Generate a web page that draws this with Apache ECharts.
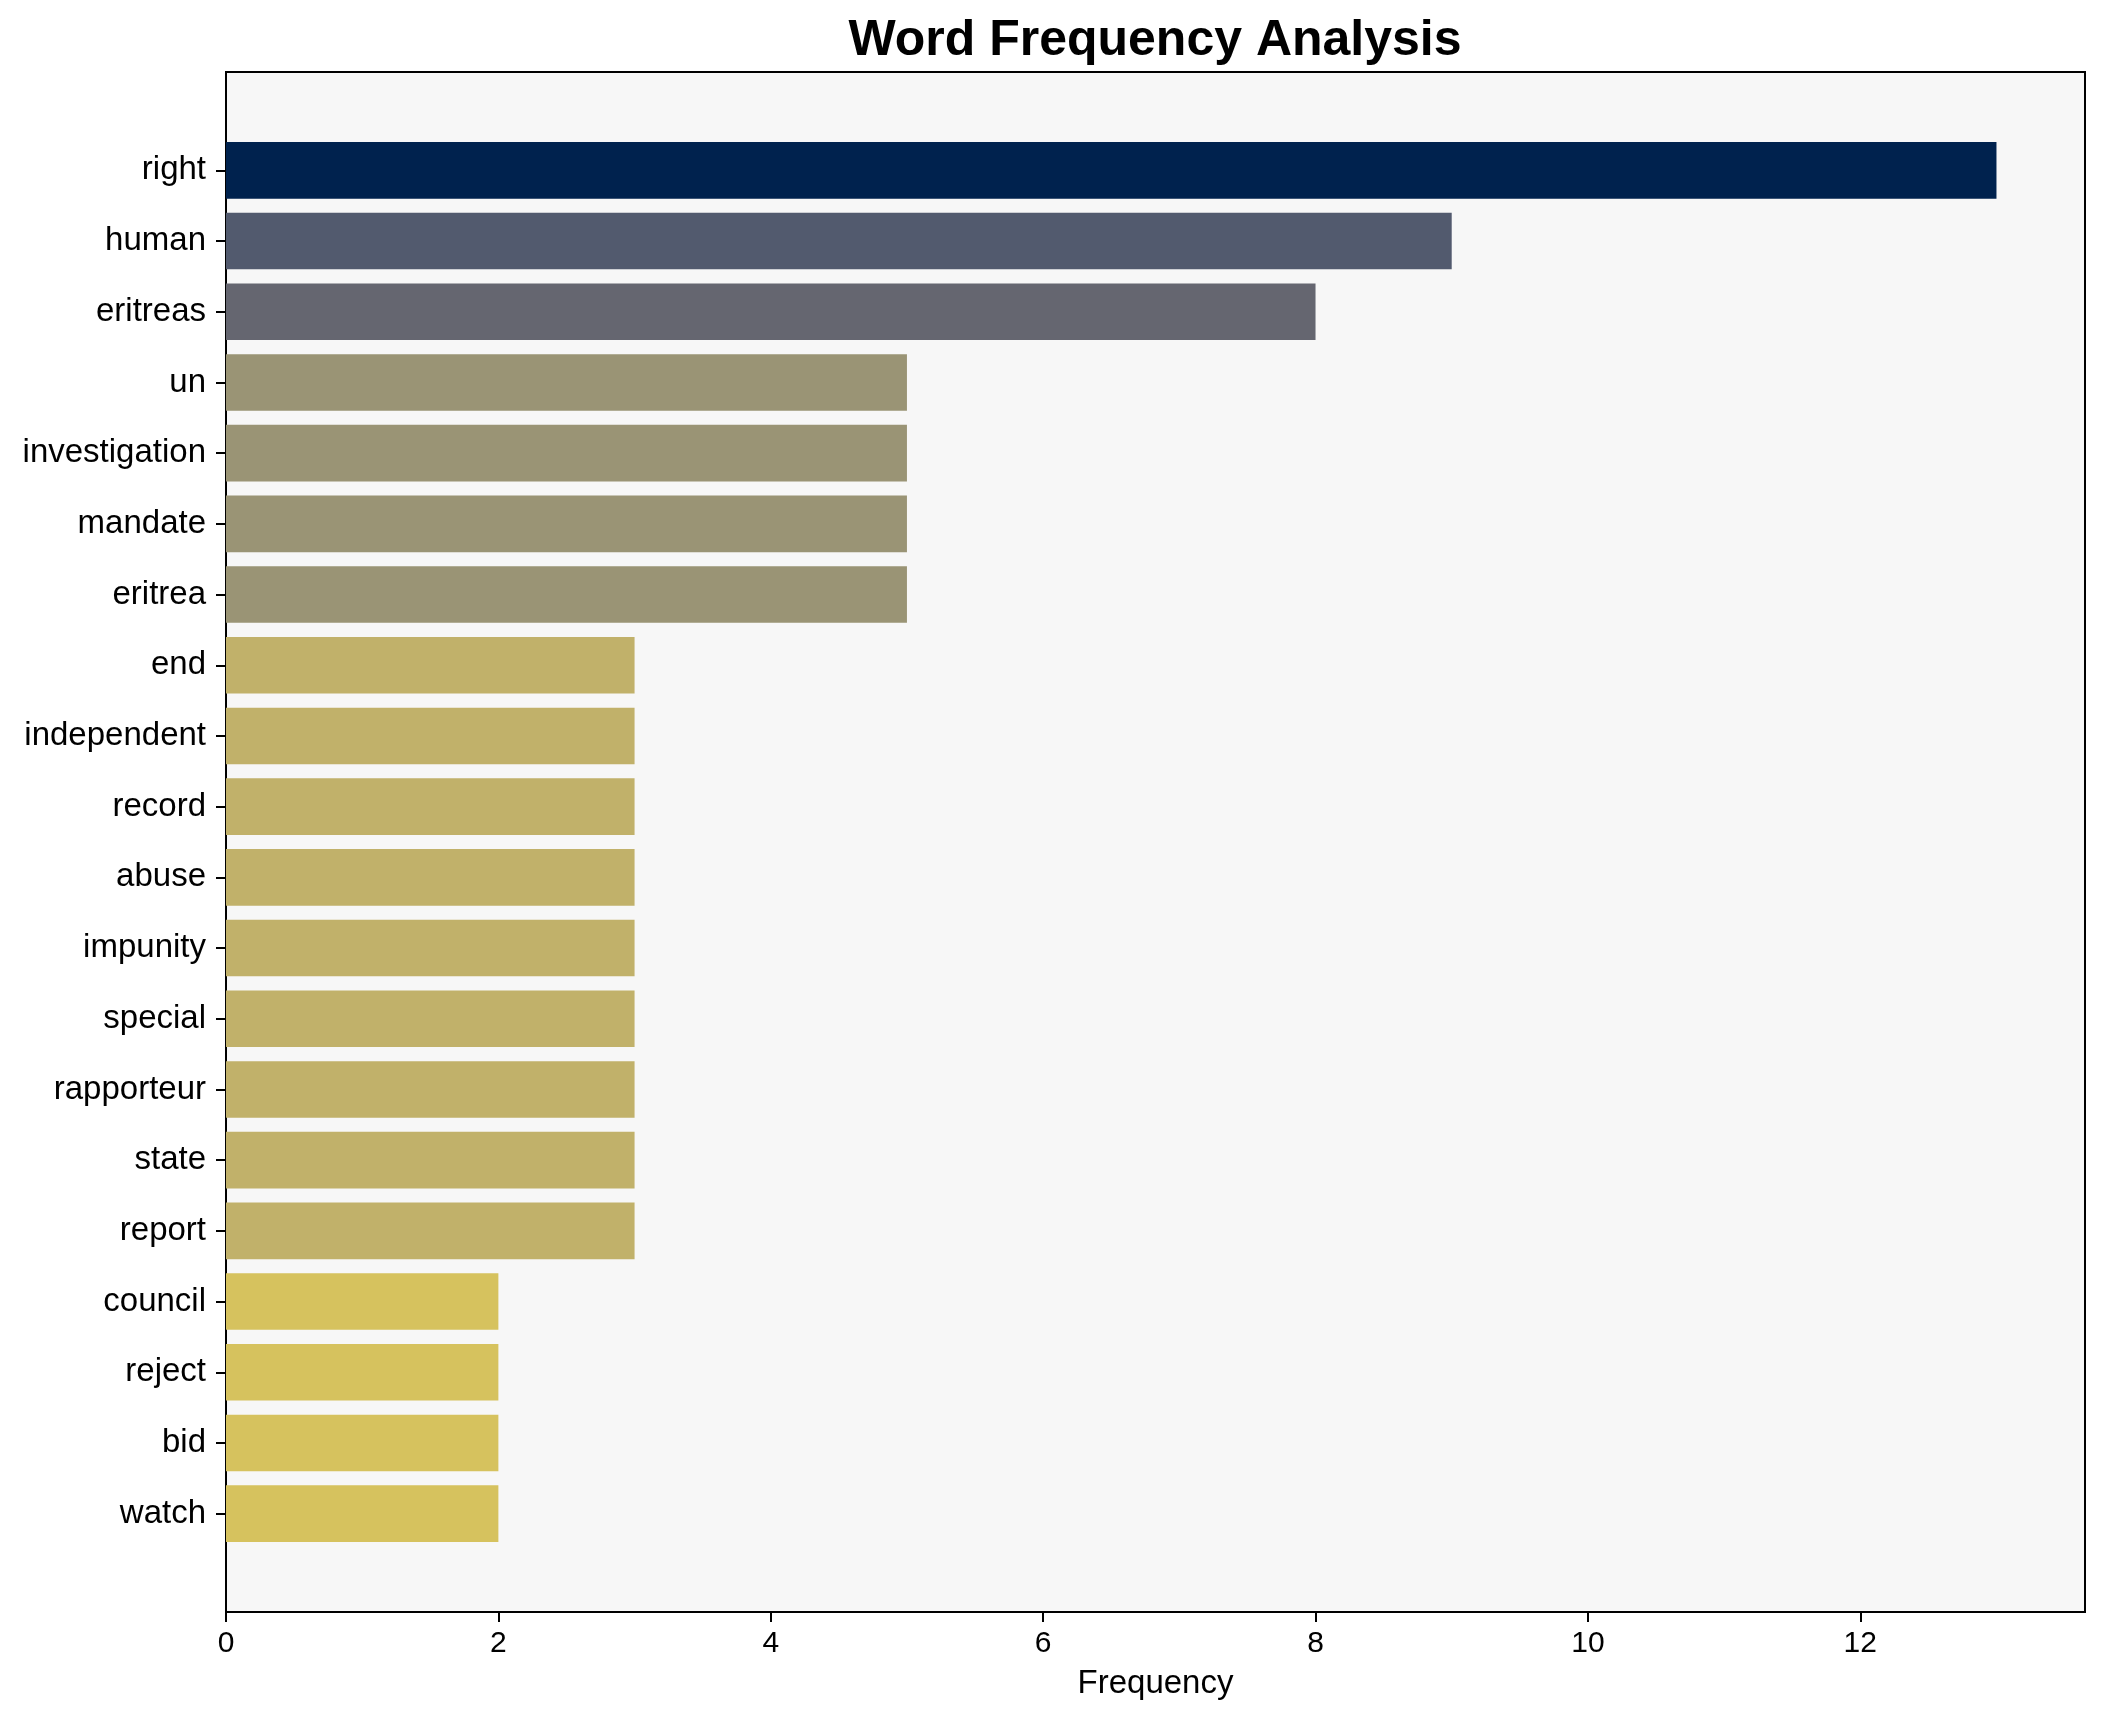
<!DOCTYPE html>
<html>
<head>
<meta charset="utf-8">
<script src="https://cdn.jsdelivr.net/npm/echarts@6/dist/echarts.min.js"></script>
<style>
html,body{margin:0;padding:0;background:#fff;}
#chart{width:2104px;height:1722px;}
</style>
</head>
<body>
<div id="chart"></div>
<script>
const words = ["right","human","eritreas","un","investigation","mandate","eritrea","end","independent","record","abuse","impunity","special","rapporteur","state","report","council","reject","bid","watch"];
const frequencies = [13,9,8,5,5,5,5,3,3,3,3,3,3,3,3,3,2,2,2,2];
const barColors = ["#00224e","#525a6e","#656670","#9a9475","#9a9475","#9a9475","#9a9475","#c1b16a","#c1b16a","#c1b16a","#c1b16a","#c1b16a","#c1b16a","#c1b16a","#c1b16a","#c1b16a","#d6c25e","#d6c25e","#d6c25e","#d6c25e"];
const xTicks = [0,2,4,6,8,10,12];
const xMax = 13.65;

const FONT = '"Liberation Sans", Arial, sans-serif';
const chart = echarts.init(document.getElementById('chart'));

chart.setOption({
  animation: false,
  backgroundColor: '#ffffff',
  graphic: [{
    type: 'text',
    x: 1155, y: 41,
    style: {
      text: 'Word Frequency Analysis',
      fontFamily: FONT, fontWeight: 'bold', fontSize: 50,
      fill: '#000', align: 'center', verticalAlign: 'middle'
    }
  }],
  grid: [
    { left: 226, right: 19, top: 135, bottom: 173, containLabel: false },
    { left: 226, right: 19, top: 72, bottom: 110, show: true, borderColor: '#000', borderWidth: 2, backgroundColor: '#f7f7f7', z: 0 }
  ],
  xAxis: [
    { gridIndex: 0, type: 'value', min: 0, max: xMax, show: false },
    {
      gridIndex: 1, type: 'value', min: 0, max: xMax,
      name: 'Frequency', nameLocation: 'middle', nameGap: 55,
      nameTextStyle: { fontFamily: FONT, fontSize: 33, color: '#000' },
      axisLine: { show: true, lineStyle: { color: '#000', width: 2 } },
      axisTick: { show: true, length: 10, lineStyle: { color: '#000', width: 2 }, customValues: xTicks },
      axisLabel: { show: true, margin: 17, fontFamily: FONT, fontSize: 30, color: '#000', customValues: xTicks },
      splitLine: { show: false }
    }
  ],
  yAxis: [
    {
      gridIndex: 0, type: 'category', data: words, inverse: true,
      axisLine: { show: false },
      axisTick: { show: true, length: 10, alignWithLabel: true, lineStyle: { color: '#000', width: 2 } },
      axisLabel: { margin: 20, fontFamily: FONT, fontSize: 33, color: '#000', padding: [5, 0, 0, 0] },
      splitLine: { show: false }
    },
    { gridIndex: 1, type: 'value', min: 0, max: 1, show: false }
  ],
  series: [{
    type: 'bar',
    xAxisIndex: 0, yAxisIndex: 0,
    barCategoryGap: '20%',
    data: frequencies.map((v, i) => ({ value: v, itemStyle: { color: barColors[i] } })),
    z: 3
  }]
});
</script>
</body>
</html>
